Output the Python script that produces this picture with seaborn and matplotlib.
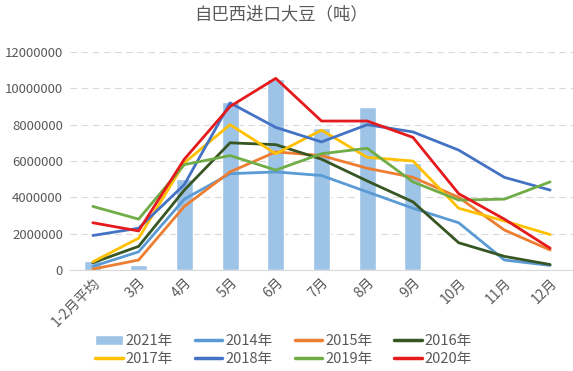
import numpy as np
import pandas as pd
import matplotlib
matplotlib.use("Agg")
import matplotlib.pyplot as plt
import seaborn as sns
from matplotlib.patches import Patch
from matplotlib.lines import Line2D

# --- datos ---
meses = ["1-2月平均", "3月", "4月", "5月", "6月", "7月", "8月", "9月", "10月", "11月", "12月"]
v2021 = [500000, 300000, 5000000, 9250000, 10500000, 7800000, 9000000, 5900000]
v2014 = [200000, 1000000, 3900000, 5300000, 5400000, 5200000, 4300000, 3400000, 2600000, 550000, 250000]
v2015 = [50000, 550000, 3500000, 5400000, 6500000, 6300000, 5600000, 5100000, 4000000, 2200000, 1100000]
v2016 = [400000, 1300000, 4400000, 7000000, 6900000, 6100000, 4900000, 3750000, 1500000, 750000, 300000]
v2017 = [450000, 1750000, 5900000, 8000000, 6400000, 7700000, 6200000, 6000000, 3400000, 2700000, 1950000]
v2018 = [1900000, 2300000, 4700000, 9200000, 7850000, 7050000, 8000000, 7600000, 6600000, 5100000, 4400000]
v2019 = [3500000, 2800000, 5800000, 6300000, 5500000, 6400000, 6700000, 4850000, 3850000, 3900000, 4850000]
v2020 = [2600000, 2150000, 6100000, 9000000, 10550000, 8200000, 8200000, 7300000, 4200000, 2800000, 1200000]

series = {"2014年": v2014, "2015年": v2015, "2016年": v2016, "2017年": v2017,
          "2018年": v2018, "2019年": v2019, "2020年": v2020}
colores = {"2014年": "#5B9BD5", "2015年": "#ED7D31", "2016年": "#375623", "2017年": "#FFC000",
           "2018年": "#4472C4", "2019年": "#70AD47", "2020年": "#E41A1C"}
color_barra = "#9DC3E6"
gris = "#595959"

sns.set_style("white")
plt.rcParams["font.family"] = ["Noto Sans CJK SC", "DejaVu Sans"]

fig = plt.figure(figsize=(5.73, 3.71), dpi=100)
ax = fig.add_axes([70 / 573, 101 / 371, 503 / 573, 218 / 371])

# barras 2021
df_bar = pd.DataFrame({"mes": meses[:len(v2021)], "valor": v2021})
sns.barplot(data=df_bar, x="mes", y="valor", color=color_barra, saturation=1,
            width=0.37, ax=ax, order=meses)

# lineas por año
filas = []
for nombre, vals in series.items():
    for i, v in enumerate(vals):
        filas.append({"pos": i, "valor": v, "año": nombre})
df_lin = pd.DataFrame(filas)
sns.lineplot(data=df_lin, x="pos", y="valor", hue="año", palette=colores,
             linewidth=2, ax=ax, legend=False)

ax.set_xlim(-0.5, len(meses) - 0.5)
ax.set_ylim(0, 12000000)
ticks_y = np.arange(0, 12000001, 2000000)
ax.set_yticks(ticks_y)
ax.set_yticklabels([str(int(t)) for t in ticks_y])
ax.set_xticks(range(len(meses)))
ax.set_xticklabels(meses, rotation=45, ha="right", rotation_mode="anchor")
ax.tick_params(axis="both", colors=gris, labelsize=9.5, length=0)
ax.tick_params(axis="y", pad=5)
ax.tick_params(axis="x", pad=4, labelsize=10)
ax.grid(axis="y", linestyle=(0, (6, 4)), color="#D9D9D9", linewidth=0.8)
ax.set_axisbelow(True)
for s in ["top", "right", "left"]:
    ax.spines[s].set_visible(False)
ax.spines["bottom"].set_color("#D9D9D9")
ax.set_xlabel("")
ax.set_ylabel("")

fig.suptitle("自巴西进口大豆（吨）", x=0.49, y=0.985, fontsize=12.5, color=gris)

# leyenda: 2 filas x 4
h = {"2021年": Patch(facecolor=color_barra)}
for nombre, c in colores.items():
    h[nombre] = Line2D([0], [0], color=c, linewidth=2.5)
orden = ["2021年", "2017年", "2014年", "2018年", "2015年", "2019年", "2016年", "2020年"]
fig.legend([h[k] for k in orden], orden, ncol=4, loc="lower center",
           bbox_to_anchor=(0.495, -0.022), frameon=False, fontsize=10.5,
           labelcolor=gris, handlelength=1.9, columnspacing=1.5,
           handletextpad=0.2, labelspacing=0.25)

fig.savefig("out.png", dpi=100)
